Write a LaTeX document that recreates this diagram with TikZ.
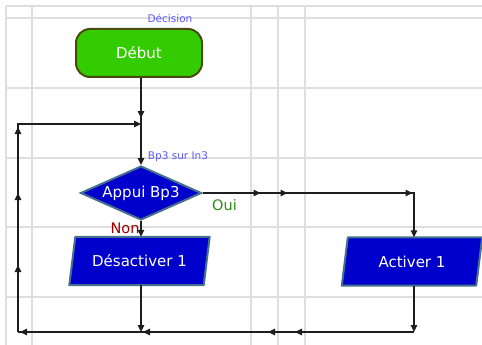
\documentclass[tikz,border=0pt]{standalone}
\usepackage{fontspec}
\setmainfont{DejaVu Sans}
\usetikzlibrary{shapes.geometric,arrows.meta,decorations.markings}
\pgfdeclarelayer{bg}
\pgfdeclarelayer{mid}
\pgfsetlayers{bg,mid,main}
\definecolor{gridc}{HTML}{DEDEDE}
\definecolor{linec}{HTML}{1E1E1E}
\definecolor{startfill}{HTML}{33CC00}
\definecolor{startdraw}{HTML}{4A4A0C}
\definecolor{bluefill}{HTML}{0000CC}
\definecolor{bluedraw}{HTML}{45708E}
\definecolor{lblblue}{HTML}{5A5AFF}
\definecolor{ouic}{HTML}{2F8A1A}
\definecolor{nonc}{HTML}{9A0000}
\tikzset{
  mtip/.tip={Triangle[length=7pt,width=6.5pt]},
  gridl/.style={draw=gridc, line width=1.1pt},
  conn/.style={draw=linec, line width=1.2pt},
  startbox/.style={rectangle, rounded corners=14pt, minimum width=126pt, minimum height=48pt,
    fill=startfill, draw=startdraw, line width=2pt, text=white, inner sep=0pt,
    font=\fontsize{15}{18}\selectfont},
  decbox/.style={diamond, aspect=2.24, minimum width=121pt, minimum height=54pt, inner sep=0pt,
    fill=bluefill, draw=bluedraw, line width=2pt, text=white, font=\fontsize{15}{18}\selectfont},
  procbox/.style={rectangle, minimum width=140pt, minimum height=48pt, inner sep=0pt,
    text=white, font=\fontsize{15}{18}\selectfont},
  procshape/.style={fill=bluefill, draw=bluedraw, line width=2pt, line join=round},
  smalllbl/.style={text=lblblue, inner sep=0pt, font=\fontsize{10.5}{12}\selectfont},
  branchlbl/.style={inner sep=0pt, font=\fontsize{14.5}{16}\selectfont},
}
\begin{document}
\begin{tikzpicture}[x=1pt,y=-1pt]
\useasboundingbox (0,0) rectangle (482,345);
% grid
\begin{pgfonlayer}{bg}
\foreach \yy in {6,18,88,158,227,297} { \draw[gridl] (6,\yy) -- (482,\yy); }
\foreach \xx in {6,32,251,278,305} { \draw[gridl] (\xx,6) -- (\xx,345); }
\end{pgfonlayer}
% nodes
\node[startbox] (debut) at (139,53) {Début};
\node[decbox] (dia) at (141,193) {Appui Bp3};
\node[procbox] (des) at (139.5,261) {Désactiver 1};
\node[procbox] (act) at (412,261.5) {Activer 1};
\begin{pgfonlayer}{mid}
\filldraw[procshape] ([xshift=6pt]des.north west) -- (des.north east) -- ([xshift=-6pt]des.south east) -- (des.south west) -- cycle;
\filldraw[procshape] ([xshift=6pt]act.north west) -- (act.north east) -- ([xshift=-6pt]act.south east) -- (act.south west) -- cycle;
\end{pgfonlayer}
% labels
\node[smalllbl] (ldec) at (170,18) {Décision};
\node[smalllbl] (lbp) at (178,157) {Bp3 sur In3};
\node[branchlbl, text=ouic] (loui) at (224.5,205) {Oui};
\node[branchlbl, text=nonc] (lnon) at (125,228) {Non};
% junctions
\coordinate (j0) at (141,124);
\coordinate (tl) at (18,124);
\coordinate (bl) at (18,332);
\coordinate (bd) at (141,332);
\coordinate (br) at (414,332);
\coordinate (rc) at (414,193);
% connectors
\draw[conn, -{mtip}, postaction={decorate}, decoration={markings,
   mark=at position 40pt with {\arrow{mtip}}}]
   (dia.north |- debut.south) -- (dia.north);
\draw[conn, -{mtip}, postaction={decorate}, decoration={markings,
   mark=at position 67pt with {\arrow{mtip}},
   mark=at position 139pt with {\arrow{mtip}},
   mark=at position 205pt with {\arrow{mtip}}}]
   (bl) -- (tl) -- (j0);
\draw[conn, -{mtip}, postaction={decorate}, decoration={markings,
   mark=at position 58pt with {\arrow{mtip}},
   mark=at position 85pt with {\arrow{mtip}},
   mark=at position 210pt with {\arrow{mtip}}}]
   (dia.east) -- (rc) -- (rc |- act.north);
\draw[conn, -{mtip}] (dia.south) -- (dia.south |- des.north);
\draw[conn, -{mtip}] (dia.south |- des.south) -- (bd);
\draw[conn, -{mtip}] (rc |- act.south) -- (br);
\draw[conn, postaction={decorate}, decoration={markings,
   mark=at position 119pt with {\arrow{mtip}},
   mark=at position 146pt with {\arrow{mtip}},
   mark=at position 271pt with {\arrow{mtip}},
   mark=at position 394pt with {\arrow{mtip}}}]
   (br) -- (bl);
\end{tikzpicture}
\end{document}
